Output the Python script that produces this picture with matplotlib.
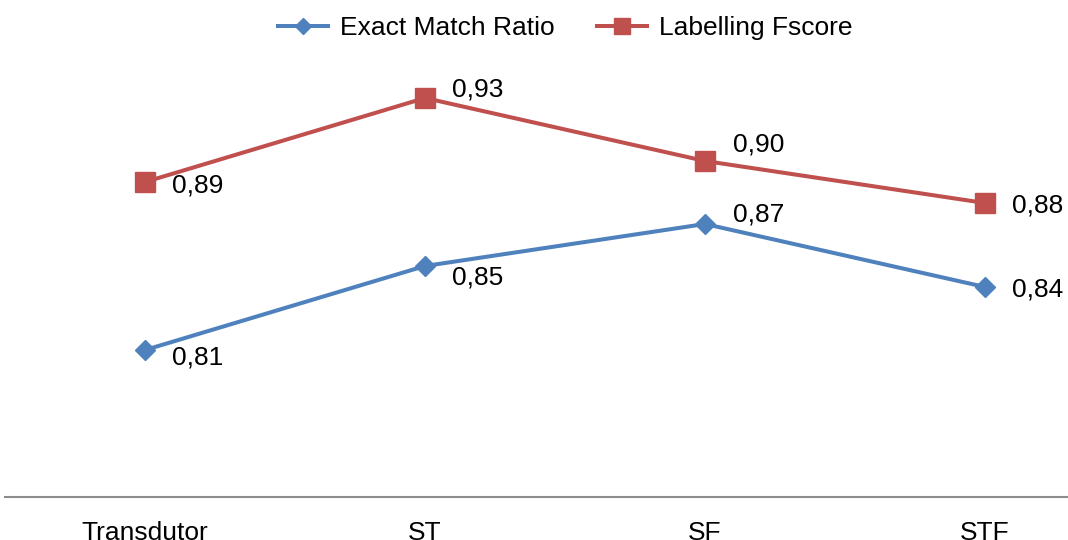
import matplotlib
matplotlib.use("Agg")
import matplotlib.pyplot as plt
from matplotlib.lines import Line2D

categories = ["Transdutor", "ST", "SF", "STF"]
exact_match = [0.81, 0.85, 0.87, 0.84]
labelling_fscore = [0.89, 0.93, 0.90, 0.88]

BLUE = "#4F81BD"
RED = "#C0504D"
FONT = "Liberation Sans"
FS = 19

plt.rcParams["font.family"] = [FONT, "DejaVu Sans"]

W, H = 1068, 540
fig = plt.figure(figsize=(W / 100, H / 100), dpi=100)
# plot area spans the category bands; its right part runs past the figure edge
left_px, right_px, top_px, bottom_px = 5, 1125, 35, 497
ax = fig.add_axes([left_px / W, 1 - bottom_px / H,
                   (right_px - left_px) / W, (bottom_px - top_px) / H])

x = list(range(len(categories)))
ax.plot(x, exact_match, color=BLUE, lw=2.9, marker="D", ms=10.5,
        mec=BLUE, mfc=BLUE, solid_joinstyle="round", clip_on=False,
        label="Exact Match Ratio")
ax.plot(x, labelling_fscore, color=RED, lw=2.9, marker="s", ms=14.5,
        mec=RED, mfc=RED, solid_joinstyle="round", clip_on=False,
        label="Labelling Fscore")

ax.set_xlim(-0.5, len(categories) - 0.5)
ax.set_ylim(0.74, 0.96)


def fmt(v):
    return f"{v:.2f}".replace(".", ",")


# label offsets (pixels, x right / y up) for each point
exact_offsets = [(27, -8), (27, -12), (28, 9), (27, -3)]
fscore_offsets = [(27, -4), (27, 8), (28, 16), (27, -3)]

for xs, ys, offs in ((x, exact_match, exact_offsets),
                     (x, labelling_fscore, fscore_offsets)):
    for xi, yi, (dx, dy) in zip(xs, ys, offs):
        ax.annotate(fmt(yi), (xi, yi), xytext=(dx * 0.72, dy * 0.72),
                    textcoords="offset points", ha="left", va="center",
                    fontsize=FS, color="black", annotation_clip=False)

ax.set_xticks(x)
ax.set_xticklabels(categories, fontsize=FS)
ax.tick_params(axis="x", length=0, pad=17)
ax.set_yticks([])
for side in ("top", "right", "left"):
    ax.spines[side].set_visible(False)
ax.spines["bottom"].set_color("#8c8c8c")
ax.spines["bottom"].set_linewidth(1.5)

handles = [
    Line2D([], [], color=BLUE, lw=2.9, marker="D", ms=8, mec=BLUE, mfc=BLUE),
    Line2D([], [], color=RED, lw=2.9, marker="s", ms=11, mec=RED, mfc=RED),
]
fig.legend(handles, ["Exact Match Ratio", "Labelling Fscore"],
           loc="center", bbox_to_anchor=((left_px + right_px) / 2 / W, 1 - 28 / H),
           ncol=2, frameon=False, fontsize=FS, handlelength=1.9,
           handletextpad=0.45, columnspacing=1.6, borderpad=0)

fig.savefig("out.png", dpi=100)
